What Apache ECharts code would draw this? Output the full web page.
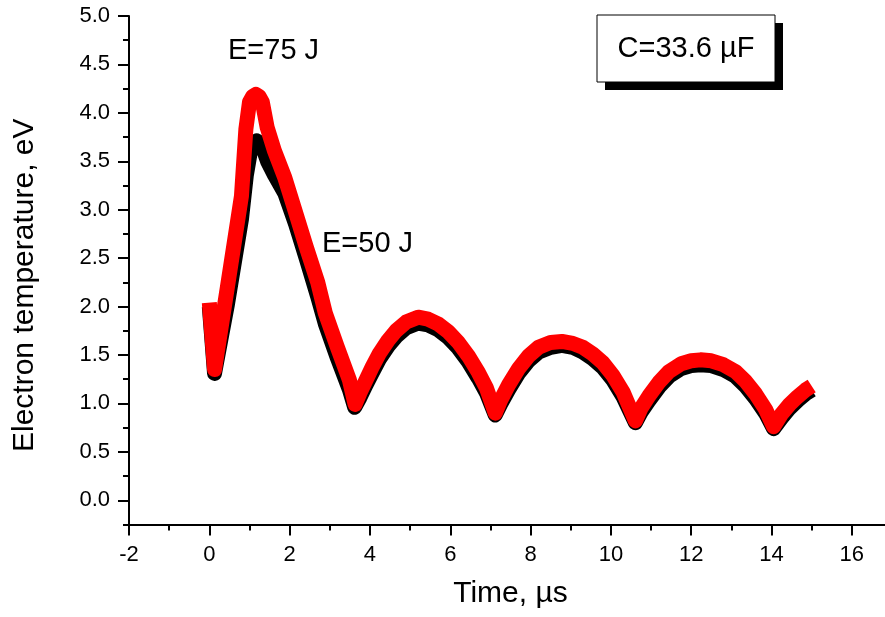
<!DOCTYPE html>
<html>
<head>
<meta charset="utf-8">
<script src="https://cdn.jsdelivr.net/npm/echarts@6/dist/echarts.min.js"></script>
<style>
html,body{margin:0;padding:0;background:#fff;}
#chart{width:885px;height:617px;}
</style>
</head>
<body>
<div id="chart"></div>
<script>
// ---- data ----
const timeRed = [0.00, 0.13, 0.45, 0.80, 0.91, 1.00, 1.08, 1.16, 1.24, 1.32, 1.44, 1.62, 1.88, 2.15, 2.41, 2.70, 2.89, 3.18, 3.49, 3.63,
  3.75, 3.90, 4.05, 4.24, 4.45, 4.65, 4.90, 5.20, 5.45, 5.70, 5.95, 6.20, 6.45, 6.70, 6.90, 7.12,
  7.25, 7.45, 7.70, 7.95, 8.20, 8.50, 8.78, 9.05, 9.30, 9.55, 9.80, 10.05, 10.30, 10.61,
  10.75, 10.95, 11.20, 11.45, 11.75, 12.00, 12.23, 12.50, 12.80, 13.10, 13.35, 13.60, 13.85, 14.05,
  14.25, 14.45, 14.65, 14.85, 15.00];
const tempRed = [2.04, 1.35, 2.20, 3.14, 3.83, 4.11, 4.17, 4.19, 4.17, 4.11, 3.85, 3.61, 3.33, 2.97, 2.62, 2.25, 1.93, 1.59, 1.24, 0.99,
  1.11, 1.24, 1.37, 1.52, 1.65, 1.75, 1.84, 1.89, 1.87, 1.82, 1.74, 1.63, 1.49, 1.32, 1.16, 0.90,
  1.03, 1.19, 1.36, 1.49, 1.58, 1.63, 1.64, 1.62, 1.58, 1.51, 1.42, 1.29, 1.12, 0.82,
  0.95, 1.08, 1.22, 1.33, 1.41, 1.44, 1.45, 1.44, 1.40, 1.33, 1.23, 1.10, 0.94, 0.76,
  0.89, 0.99, 1.07, 1.14, 1.18];

const timeBlack = [0.00, 0.13, 0.45, 0.80, 0.92, 1.03, 1.10, 1.18, 1.26, 1.34, 1.45, 1.62, 1.88, 2.15, 2.41, 2.70, 2.89, 3.18, 3.49, 3.62,
  3.75, 3.90, 4.05, 4.24, 4.45, 4.65, 4.90, 5.20, 5.45, 5.70, 5.95, 6.20, 6.45, 6.70, 6.90, 7.12,
  7.25, 7.45, 7.70, 7.95, 8.20, 8.50, 8.78, 9.05, 9.30, 9.55, 9.80, 10.05, 10.30, 10.61,
  10.75, 10.95, 11.20, 11.45, 11.75, 12.00, 12.23, 12.50, 12.80, 13.10, 13.35, 13.60, 13.85, 14.05,
  14.25, 14.45, 14.65, 14.85, 15.00];
const tempBlack = [2.00, 1.31, 2.02, 2.90, 3.35, 3.62, 3.69, 3.71, 3.69, 3.63, 3.50, 3.36, 3.17, 2.85, 2.50, 2.10, 1.82, 1.48, 1.14, 0.96,
  1.06, 1.19, 1.31, 1.46, 1.59, 1.69, 1.78, 1.83, 1.81, 1.76, 1.68, 1.57, 1.43, 1.26, 1.11, 0.88,
  0.99, 1.14, 1.31, 1.44, 1.53, 1.58, 1.60, 1.58, 1.53, 1.46, 1.37, 1.24, 1.07, 0.80,
  0.91, 1.03, 1.17, 1.28, 1.36, 1.39, 1.40, 1.39, 1.35, 1.28, 1.18, 1.05, 0.90, 0.74,
  0.85, 0.95, 1.03, 1.10, 1.14];

const xMajorTicks = [-2, 0, 2, 4, 6, 8, 10, 12, 14, 16];
const xMinorTicks = [-1, 1, 3, 5, 7, 9, 11, 13, 15, 17];
const yMajorTicks = [0, 0.5, 1, 1.5, 2, 2.5, 3, 3.5, 4, 4.5, 5];
const yMinorTicks = [-0.25, 0.25, 0.75, 1.25, 1.75, 2.25, 2.75, 3.25, 3.75, 4.25, 4.75];

const labelRed = 'E=75 J';
const labelBlack = 'E=50 J';
const boxText = 'C=33.6 \u00B5F';

// ---- chart ----
const FONT = '"Liberation Sans", Arial, sans-serif';
const chart = echarts.init(document.getElementById('chart'), null, {renderer: 'canvas'});
const pairs = (xs, ys) => xs.map((x, i) => [x, ys[i]]);

const axisLineStyle = {color: '#000', width: 2};

const option = {
  animation: false,
  backgroundColor: '#fff',
  grid: {left: 129, right: -7, top: 16, bottom: 92.5, containLabel: false, outerBoundsMode: 'none'},
  xAxis: [
    {
      type: 'value', min: -2, max: 17, position: 'bottom',
      name: 'Time, \u00B5s', nameLocation: 'middle', nameGap: 54,
      nameTextStyle: {fontFamily: FONT, fontSize: 30, color: '#000'},
      axisLine: {show: true, onZero: false, lineStyle: axisLineStyle},
      axisTick: {show: true, inside: false, length: 11, lineStyle: axisLineStyle, customValues: xMajorTicks},
      axisLabel: {show: true, margin: 19, fontFamily: FONT, fontSize: 22, color: '#000', customValues: xMajorTicks,
        formatter: v => String(v)},
      splitLine: {show: false}
    },
    {
      type: 'value', min: -2, max: 17, position: 'bottom',
      axisLine: {show: false, onZero: false},
      axisTick: {show: true, inside: false, length: 6, lineStyle: axisLineStyle, customValues: xMinorTicks},
      axisLabel: {show: false, customValues: xMinorTicks},
      splitLine: {show: false}
    }
  ],
  yAxis: [
    {
      type: 'value', min: -0.25, max: 5, position: 'left',
      name: 'Electron temperature, eV', nameLocation: 'middle', nameGap: 89, nameRotate: 90,
      nameTextStyle: {fontFamily: FONT, fontSize: 30, color: '#000', padding: [0, 30, 0, 0]},
      axisLine: {show: true, onZero: false, lineStyle: axisLineStyle},
      axisTick: {show: true, inside: false, length: 11, lineStyle: axisLineStyle, customValues: yMajorTicks},
      axisLabel: {show: true, margin: 19, fontFamily: FONT, fontSize: 22, color: '#000', customValues: yMajorTicks,
        formatter: v => v.toFixed(1)},
      splitLine: {show: false}
    },
    {
      type: 'value', min: -0.25, max: 5, position: 'left',
      axisLine: {show: false, onZero: false},
      axisTick: {show: true, inside: false, length: 6, lineStyle: axisLineStyle, customValues: yMinorTicks},
      axisLabel: {show: false, customValues: yMinorTicks},
      splitLine: {show: false}
    }
  ],
  series: [
    {
      name: labelBlack, type: 'line', xAxisIndex: 0, yAxisIndex: 0,
      data: pairs(timeBlack, tempBlack),
      showSymbol: false, smooth: false, silent: true,
      lineStyle: {color: '#000', width: 15, join: 'round', cap: 'butt'},
      z: 2
    },
    {
      name: labelRed, type: 'line', xAxisIndex: 0, yAxisIndex: 0,
      data: pairs(timeRed, tempRed),
      showSymbol: false, smooth: false, silent: true,
      lineStyle: {color: '#ff0000', width: 15, join: 'round', cap: 'butt'},
      z: 3
    }
  ],
  graphic: [
    {type: 'text', left: 228, top: 36, style: {text: labelRed, fontFamily: FONT, fontSize: 29, fill: '#000'}},
    {type: 'text', left: 322, top: 229, style: {text: labelBlack, fontFamily: FONT, fontSize: 29, fill: '#000'}},
    {type: 'rect', shape: {x: 605, y: 23, width: 178, height: 67}, style: {fill: '#000'}},
    {type: 'rect', shape: {x: 597, y: 15, width: 178, height: 67}, style: {fill: '#fff', stroke: '#000', lineWidth: 1}},
    {type: 'text', x: 686, y: 48.5, style: {text: boxText, fontFamily: FONT, fontSize: 29, fill: '#000', align: 'center', verticalAlign: 'middle'}}
  ]
};
chart.setOption(option);
</script>
</body>
</html>
